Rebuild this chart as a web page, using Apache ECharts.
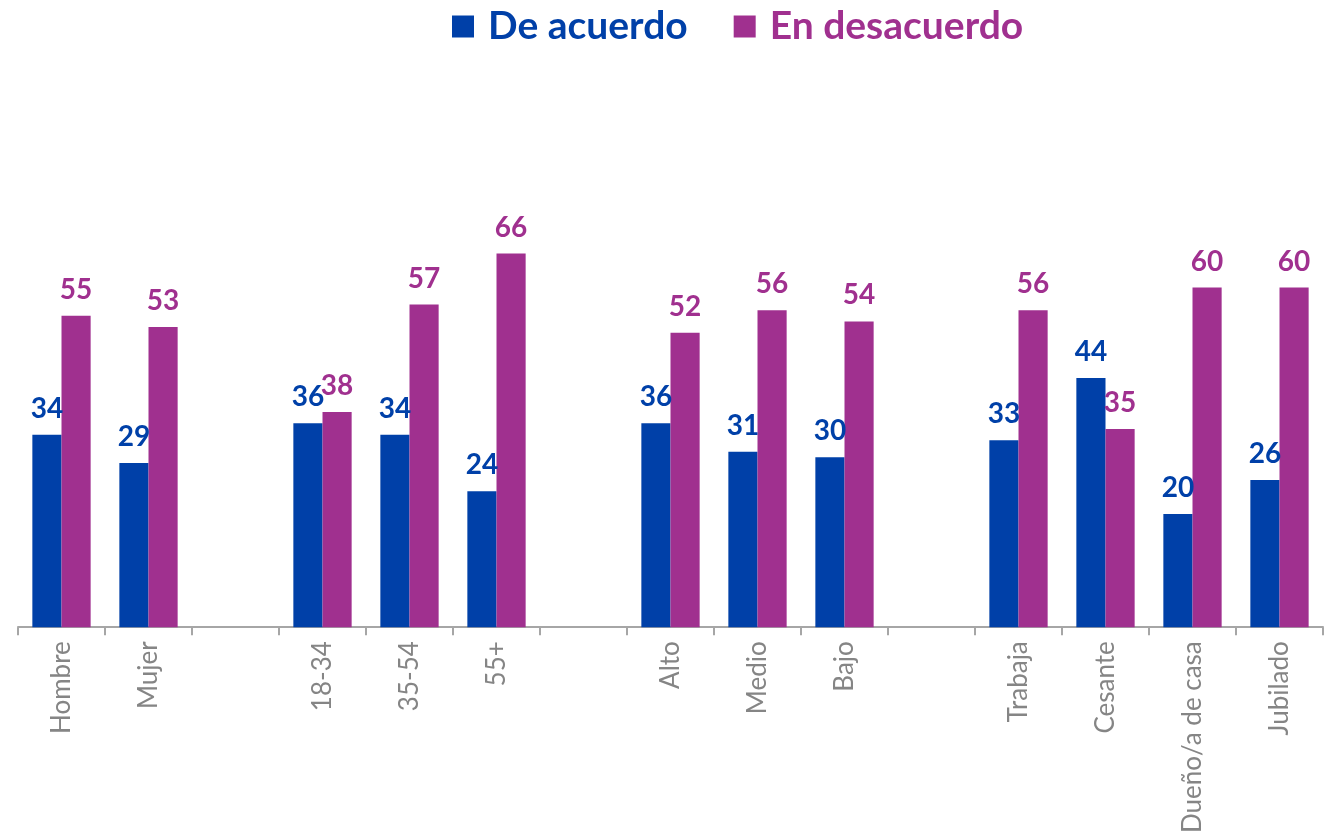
<!DOCTYPE html>
<html>
<head>
<meta charset="utf-8">
<script src="https://cdn.jsdelivr.net/npm/echarts@6/dist/echarts.min.js"></script>
<style>
  html, body { margin: 0; padding: 0; background: #ffffff; }
  #main { width: 1337px; height: 836px; }
</style>
</head>
<body>
<div id="main"></div>
<script>
// categorias (los '' son los espacios entre grupos)
var categories = ['Hombre', 'Mujer', '', '18-34', '35-54', '55+', '', 'Alto', 'Medio', 'Bajo', '', 'Trabaja', 'Cesante', 'Dueño/a de casa', 'Jubilado'];
var deAcuerdo = [34, 29, '-', 36, 34, 24, '-', 36, 31, 30, '-', 33, 44, 20, 26];
var enDesacuerdo = [55, 53, '-', 38, 57, 66, '-', 52, 56, 54, '-', 56, 35, 60, 60];

var azul = '#0040a8';
var morado = '#a0308f';

var chart = echarts.init(document.getElementById('main'));

var labelStyle = function(color) {
  return {
    show: true,
    position: 'top',
    distance: 12,
    color: color,
    fontFamily: 'Lato',
    fontWeight: 'bold',
    fontSize: 28
  };
};

var option = {
  backgroundColor: '#ffffff',
  animation: false,
  legend: {
    left: 447,
    top: 2,
    itemWidth: 22,
    itemHeight: 22,
    itemGap: 46,
    icon: 'rect',
    textStyle: {
      fontFamily: 'Lato',
      fontWeight: 'bold',
      fontSize: 39,
      padding: [0, 0, 0, 9]
    },
    data: [
      { name: 'De acuerdo', textStyle: { color: azul } },
      { name: 'En desacuerdo', textStyle: { color: morado } }
    ]
  },
  grid: {
    left: 18,
    right: 14,
    top: 61,
    bottom: 208,
    containLabel: false
  },
  xAxis: {
    type: 'category',
    data: categories,
    axisLine: { lineStyle: { color: '#a6a6a6', width: 2 } },
    axisTick: { show: true, length: 8, lineStyle: { color: '#a6a6a6', width: 2 } },
    axisLabel: {
      rotate: 90,
      interval: 0,
      margin: 14,
      color: '#858585',
      fontFamily: 'Lato',
      fontSize: 26
    }
  },
  yAxis: {
    type: 'value',
    min: 0,
    max: 100,
    show: false
  },
  series: [
    {
      name: 'De acuerdo',
      type: 'bar',
      data: deAcuerdo,
      barGap: '0%',
      barCategoryGap: '33%',
      itemStyle: { color: azul },
      label: labelStyle(azul)
    },
    {
      name: 'En desacuerdo',
      type: 'bar',
      data: enDesacuerdo,
      itemStyle: { color: morado },
      label: labelStyle(morado)
    }
  ]
};

chart.setOption(option);
</script>
</body>
</html>
